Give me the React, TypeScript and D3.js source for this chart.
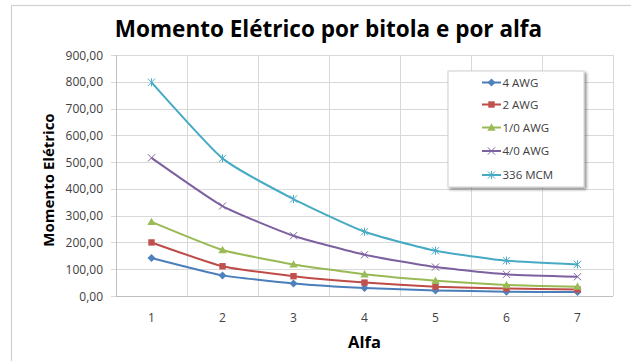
import React from "react";
import * as d3 from "d3";

const alfa = [1, 2, 3, 4, 5, 6, 7];
const seriesNames = ["4 AWG", "2 AWG", "1/0 AWG", "4/0 AWG", "336 MCM"];
const awg4 = [142, 77, 47, 30, 21, 16, 15];
const awg2 = [200, 111, 74, 50, 35, 28, 24];
const awg10 = [277, 172, 118, 81, 57, 41, 35];
const awg40 = [516, 336, 225, 154, 108, 81, 72];
const mcm336 = [798, 514, 362, 240, 169, 132, 118];
const yTicks = [0, 100, 200, 300, 400, 500, 600, 700, 800, 900];

const seriesValues = [awg4, awg2, awg10, awg40, mcm336];
const lineColors = ["#4A7EBB", "#BE4B48", "#98B954", "#7D60A0", "#46AAC5"];
const markerColors = ["#4F81BD", "#C0504D", "#9BBB59", "#8064A2", "#4BACC6"];
const markerTypes = ["diamond", "square", "triangle", "x", "star"];

const FONT = "'Open Sans', 'Noto Sans', sans-serif";

function Marker({ type, x, y, color }: { type: string; x: number; y: number; color: string }) {
  if (type === "diamond") {
    const r = 4;
    return <path d={`M${x},${y - r}L${x + r},${y}L${x},${y + r}L${x - r},${y}Z`} fill={color} />;
  }
  if (type === "square") {
    return <rect x={x - 3.2} y={y - 3.2} width={6.4} height={6.4} fill={color} />;
  }
  if (type === "triangle") {
    return <path d={`M${x},${y - 4.2}L${x + 4.2},${y + 3.2}L${x - 4.2},${y + 3.2}Z`} fill={color} />;
  }
  if (type === "x") {
    const r = 3.6;
    return (
      <path
        d={`M${x - r},${y - r}L${x + r},${y + r}M${x - r},${y + r}L${x + r},${y - r}`}
        stroke={color}
        strokeWidth={1}
        fill="none"
      />
    );
  }
  const r = 3.6;
  return (
    <path
      d={`M${x - r},${y - r}L${x + r},${y + r}M${x - r},${y + r}L${x + r},${y - r}M${x},${y - r - 0.5}L${x},${y + r + 0.5}`}
      stroke={color}
      strokeWidth={1}
      fill="none"
    />
  );
}

export default function App() {
  const W = 631;
  const H = 361;
  const left = 116;
  const right = 613;
  const top = 55;
  const bottom = 296;

  const x = d3.scaleBand<number>().domain(alfa).range([left, right]).padding(0);
  const cx = (a: number) => (x(a) as number) + x.bandwidth() / 2;
  const y = d3.scaleLinear().domain([0, 900]).range([bottom, top]);

  const line = d3
    .line<number>()
    .x((_, i) => cx(alfa[i]))
    .y((d) => y(d))
    .curve(d3.curveCardinal.tension(0.5));

  const boundaries = alfa.map((a) => x(a) as number).concat([right]);

  const legX = 448;
  const legY = 71;
  const legW = 136;
  const legH = 116;
  const rowYs = [82.5, 104.5, 127.5, 151, 175];

  return (
    <svg
      width={W}
      height={H}
      style={{ position: "fixed", left: 0, top: 0, background: "#fff" }}
      fontFamily={FONT}
    >
      <defs>
        <filter id="shadow" x="-10%" y="-10%" width="130%" height="130%">
          <feGaussianBlur in="SourceAlpha" stdDeviation="1.6" />
          <feOffset dx="2" dy="2" result="b" />
          <feComponentTransfer>
            <feFuncA type="linear" slope="0.45" />
          </feComponentTransfer>
          <feMerge>
            <feMergeNode />
            <feMergeNode in="SourceGraphic" />
          </feMerge>
        </filter>
      </defs>
      <rect x={0} y={0} width={W} height={H} fill="#fff" />
      <rect x={11.5} y={5.5} width={W + 10} height={H + 10} fill="none" stroke="#d0d0d0" strokeWidth={1.2} />

      <text
        x={(left + right) / 2 - 36}
        y={36.5}
        textAnchor="middle"
        fontSize={22.5}
        fontWeight="bold"
        fill="#000"
      >
        Momento Elétrico por bitola e por alfa
      </text>

      {yTicks.map((t) => (
        <line
          key={"h" + t}
          x1={left - 5}
          x2={right}
          y1={Math.round(y(t)) + 0.5}
          y2={Math.round(y(t)) + 0.5}
          stroke="#d9d9d9"
          strokeWidth={1}
        />
      ))}
      {boundaries.map((b, i) => (
        <line
          key={"v" + i}
          x1={Math.round(b) + 0.5}
          x2={Math.round(b) + 0.5}
          y1={top}
          y2={bottom}
          stroke="#d9d9d9"
          strokeWidth={1}
        />
      ))}
      <line x1={left + 0.5} x2={left + 0.5} y1={top} y2={bottom} stroke="#bfbfbf" />
      <line x1={left} x2={right} y1={bottom + 0.5} y2={bottom + 0.5} stroke="#bfbfbf" />

      {yTicks.map((t) => (
        <text
          key={"yl" + t}
          x={103}
          y={y(t) + 4.5}
          textAnchor="end"
          fontSize={12}
          fill="#404040"
        >
          {d3.format(".2f")(t).replace(".", ",")}
        </text>
      ))}
      {alfa.map((a) => (
        <text key={"xl" + a} x={cx(a)} y={322} textAnchor="middle" fontSize={12} fill="#404040">
          {a}
        </text>
      ))}

      <text
        x={(left + right) / 2}
        y={348}
        textAnchor="middle"
        fontSize={16.5}
        fontWeight="bold"
        fill="#000"
      >
        Alfa
      </text>
      <text
        transform={`translate(53.5, 180) rotate(-90)`}
        textAnchor="middle"
        fontSize={15}
        fontWeight="bold"
        fill="#000"
      >
        Momento Elétrico
      </text>

      {seriesValues.map((vals, si) => (
        <g key={"s" + si}>
          <path d={line(vals) || ""} fill="none" stroke={lineColors[si]} strokeWidth={2} />
          {vals.map((v, i) => (
            <Marker key={i} type={markerTypes[si]} x={cx(alfa[i])} y={y(v)} color={markerColors[si]} />
          ))}
        </g>
      ))}

      <rect x={legX} y={legY} width={legW} height={legH} fill="#fff" stroke="#d0d0d0" filter="url(#shadow)" />
      {seriesNames.map((name, si) => (
        <g key={"lg" + si}>
          <line x1={482} x2={501} y1={rowYs[si]} y2={rowYs[si]} stroke={lineColors[si]} strokeWidth={2} />
          <Marker type={markerTypes[si]} x={491.5} y={rowYs[si]} color={markerColors[si]} />
          <text x={502.5} y={rowYs[si] + 4} fontSize={11.5} fill="#404040">
            {name}
          </text>
        </g>
      ))}
    </svg>
  );
}
